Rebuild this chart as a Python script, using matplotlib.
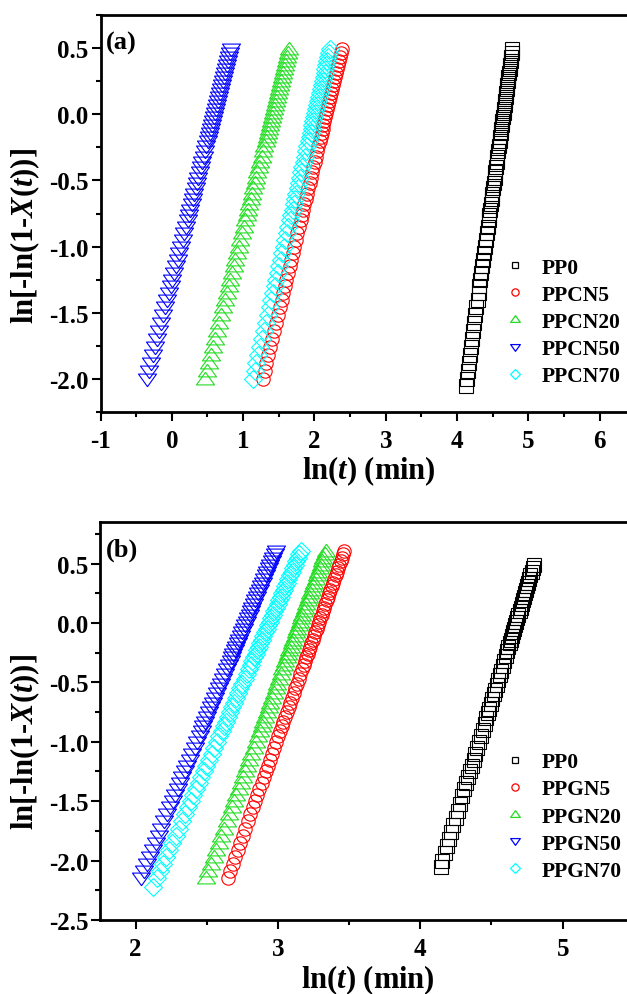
import matplotlib
matplotlib.use('Agg')
import matplotlib.pyplot as plt
from matplotlib.ticker import MultipleLocator, FixedLocator, FormatStrFormatter
from matplotlib.lines import Line2D

plt.rcParams.update({
    'font.family': ['Liberation Serif', 'DejaVu Serif'],
    'font.weight': 'bold',
    'mathtext.fontset': 'custom',
    'mathtext.rm': 'Liberation Serif:bold',
    'mathtext.it': 'Liberation Serif:italic:bold',
    'mathtext.bf': 'Liberation Serif:bold',
    'axes.unicode_minus': False,
})

# ---------------- data: panel (a) ----------------
labels_a = ['PP0', 'PPCN5', 'PPCN20', 'PPCN50', 'PPCN70']
xticks_a = [-1, 0, 1, 2, 3, 4, 5, 6]

# y = ln[-ln(1-X(t))] levels shared by PPCN series
y_cn = [-2.00, -1.94, -1.88, -1.82, -1.76, -1.70, -1.64, -1.58, -1.52, -1.46,
        -1.40, -1.35, -1.30, -1.25, -1.20, -1.15, -1.10, -1.05, -1.00, -0.95, -0.90, -0.85,
        -0.80, -0.76, -0.72, -0.68, -0.64, -0.60, -0.56, -0.52, -0.48, -0.44, -0.40, -0.36,
        -0.32, -0.28, -0.24,
        -0.20, -0.17, -0.14, -0.11, -0.08, -0.05, -0.02, 0.01, 0.04, 0.07, 0.10, 0.13, 0.16,
        0.19, 0.22, 0.25, 0.28, 0.31, 0.34, 0.37, 0.40, 0.43, 0.46, 0.49]

y_pp0 = [-2.05, -2.00, -1.94, -1.88, -1.82, -1.76, -1.70, -1.64, -1.58, -1.52, -1.46,
         -1.40, -1.35, -1.30, -1.25, -1.20, -1.15, -1.10, -1.05, -1.00, -0.95, -0.90, -0.85,
         -0.80, -0.76, -0.72, -0.68, -0.64, -0.60, -0.56, -0.52, -0.48, -0.44, -0.40, -0.36,
         -0.32, -0.28, -0.24,
         -0.20, -0.17, -0.14, -0.11, -0.08, -0.05, -0.02, 0.01, 0.04, 0.07, 0.10, 0.13, 0.16,
         0.19, 0.22, 0.25, 0.28, 0.31, 0.34, 0.37, 0.40, 0.43, 0.46, 0.49]

x_pp0_a = [4.120, 4.133, 4.149, 4.164, 4.179, 4.195, 4.210, 4.226, 4.241, 4.257, 4.272,
           4.288, 4.301, 4.314, 4.327, 4.339, 4.352, 4.365, 4.378, 4.391, 4.404, 4.417, 4.430,
           4.443, 4.453, 4.463, 4.474, 4.484, 4.494, 4.505, 4.515, 4.525, 4.536, 4.546, 4.556,
           4.566, 4.577, 4.587,
           4.597, 4.605, 4.613, 4.621, 4.628, 4.636, 4.644, 4.652, 4.659, 4.667, 4.675, 4.683,
           4.690, 4.698, 4.706, 4.714, 4.721, 4.729, 4.737, 4.745, 4.752, 4.760, 4.768, 4.775]

x_ppcn5 = [1.273, 1.300, 1.326, 1.354, 1.380, 1.407, 1.433, 1.460, 1.487, 1.514,
           1.540, 1.563, 1.585, 1.606, 1.629, 1.651, 1.674, 1.696, 1.719, 1.740, 1.762, 1.785,
           1.807, 1.825, 1.843, 1.860, 1.879, 1.896, 1.914, 1.932, 1.950, 1.967, 1.985, 2.003,
           2.020, 2.038, 2.056,
           2.074, 2.088, 2.101, 2.114, 2.127, 2.141, 2.154, 2.167, 2.181, 2.195, 2.208, 2.221,
           2.234, 2.248, 2.261, 2.274, 2.287, 2.301, 2.314, 2.328, 2.341, 2.355, 2.368, 2.381]

x_ppcn20 = [0.465, 0.493, 0.522, 0.550, 0.578, 0.607, 0.635, 0.663, 0.692, 0.720,
            0.748, 0.772, 0.795, 0.819, 0.843, 0.866, 0.890, 0.913, 0.937, 0.961, 0.984, 1.008,
            1.031, 1.050, 1.069, 1.088, 1.107, 1.126, 1.145, 1.164, 1.182, 1.201, 1.220, 1.239,
            1.258, 1.277, 1.296,
            1.315, 1.329, 1.343, 1.357, 1.371, 1.385, 1.400, 1.414, 1.428, 1.442, 1.456, 1.470,
            1.485, 1.499, 1.513, 1.527, 1.541, 1.555, 1.570, 1.584, 1.598, 1.612, 1.626, 1.640]

x_ppcn50 = [-0.345, -0.317, -0.288, -0.260, -0.232, -0.203, -0.175, -0.147, -0.118, -0.090,
            -0.062, -0.038, -0.015, 0.009, 0.033, 0.056, 0.080, 0.103, 0.127, 0.151, 0.174, 0.198,
            0.221, 0.240, 0.259, 0.278, 0.297, 0.316, 0.335, 0.354, 0.372, 0.391, 0.410, 0.429,
            0.448, 0.467, 0.486,
            0.505, 0.519, 0.533, 0.547, 0.561, 0.575, 0.590, 0.604, 0.618, 0.632, 0.646, 0.660,
            0.675, 0.689, 0.703, 0.717, 0.731, 0.745, 0.760, 0.774, 0.788, 0.802, 0.816, 0.830]

x_ppcn70 = [1.134, 1.160, 1.186, 1.213, 1.239, 1.265, 1.291, 1.317, 1.344, 1.370,
            1.396, 1.418, 1.440, 1.461, 1.483, 1.505, 1.527, 1.549, 1.571, 1.592, 1.614, 1.636,
            1.658, 1.675, 1.693, 1.710, 1.728, 1.745, 1.763, 1.780, 1.798, 1.815, 1.832, 1.850,
            1.867, 1.885, 1.902,
            1.920, 1.933, 1.946, 1.959, 1.972, 1.985, 1.998, 2.011, 2.025, 2.038, 2.051, 2.064,
            2.077, 2.090, 2.103, 2.116, 2.129, 2.142, 2.155, 2.169, 2.182, 2.195, 2.208, 2.221]

# ---------------- data: panel (b) ----------------
labels_b = ['PP0', 'PPGN5', 'PPGN20', 'PPGN50', 'PPGN70']
xticks_b = [2, 3, 4, 5]

y_gn = [-2.15, -2.09, -2.03, -1.97, -1.91, -1.85, -1.79, -1.73, -1.67, -1.61,
        -1.55, -1.50, -1.45, -1.40, -1.35, -1.30, -1.25, -1.20, -1.15, -1.10, -1.05, -1.00,
        -0.95, -0.91, -0.87, -0.83, -0.79, -0.75, -0.71, -0.67, -0.63, -0.59, -0.55, -0.51,
        -0.47, -0.43, -0.39,
        -0.35, -0.32, -0.29, -0.26, -0.23, -0.20, -0.17, -0.14, -0.11, -0.08, -0.05, -0.02,
        0.01, 0.04, 0.07, 0.10, 0.13, 0.16, 0.19, 0.22, 0.25, 0.28, 0.31, 0.34, 0.37, 0.40,
        0.43, 0.46, 0.49, 0.52, 0.55, 0.58, 0.61]

y_pp0_b = y_pp0

y_pgn70 = [-2.22] + y_gn

x_pp0_b = [4.142, 4.155, 4.171, 4.186, 4.201, 4.217, 4.232, 4.248, 4.263, 4.279, 4.294,
           4.310, 4.323, 4.336, 4.349, 4.361, 4.374, 4.387, 4.400, 4.413, 4.426, 4.439, 4.452,
           4.465, 4.475, 4.485, 4.496, 4.506, 4.516, 4.527, 4.537, 4.547, 4.558, 4.568, 4.578,
           4.588, 4.599, 4.609,
           4.619, 4.627, 4.635, 4.643, 4.650, 4.658, 4.666, 4.674, 4.681, 4.689, 4.697, 4.705,
           4.712, 4.720, 4.728, 4.736, 4.743, 4.751, 4.759, 4.767, 4.774, 4.782, 4.790, 4.797]

x_ppgn5 = [2.647, 2.665, 2.683, 2.701, 2.718, 2.736, 2.754, 2.772, 2.790, 2.807,
           2.825, 2.840, 2.855, 2.870, 2.885, 2.900, 2.914, 2.929, 2.944, 2.959, 2.974, 2.989,
           3.003, 3.015, 3.027, 3.039, 3.051, 3.063, 3.075, 3.087, 3.098, 3.110, 3.122, 3.134,
           3.146, 3.158, 3.170,
           3.182, 3.191, 3.199, 3.208, 3.217, 3.226, 3.235, 3.244, 3.253, 3.262, 3.271, 3.280,
           3.289, 3.297, 3.306, 3.315, 3.324, 3.333, 3.342, 3.351, 3.360, 3.369, 3.378, 3.387,
           3.396, 3.405, 3.413, 3.422, 3.431, 3.440, 3.449, 3.458, 3.467]

x_ppgn20 = [2.493, 2.511, 2.530, 2.548, 2.566, 2.585, 2.603, 2.622, 2.640, 2.658,
            2.677, 2.692, 2.707, 2.723, 2.738, 2.753, 2.768, 2.784, 2.799, 2.814, 2.830, 2.845,
            2.860, 2.872, 2.885, 2.897, 2.909, 2.921, 2.934, 2.946, 2.958, 2.970, 2.983, 2.995,
            3.007, 3.019, 3.032,
            3.044, 3.053, 3.062, 3.071, 3.081, 3.090, 3.099, 3.108, 3.117, 3.126, 3.136, 3.145,
            3.154, 3.163, 3.172, 3.182, 3.191, 3.200, 3.209, 3.218, 3.227, 3.237, 3.246, 3.255,
            3.264, 3.273, 3.282, 3.292, 3.301, 3.310, 3.319, 3.328, 3.338]

x_ppgn50 = [2.037, 2.058, 2.078, 2.099, 2.120, 2.140, 2.161, 2.182, 2.202, 2.223,
            2.243, 2.261, 2.278, 2.295, 2.312, 2.329, 2.347, 2.364, 2.381, 2.398, 2.415, 2.433,
            2.450, 2.464, 2.477, 2.491, 2.505, 2.519, 2.532, 2.546, 2.560, 2.574, 2.587, 2.601,
            2.615, 2.629, 2.642,
            2.656, 2.667, 2.677, 2.687, 2.698, 2.708, 2.718, 2.728, 2.739, 2.749, 2.759, 2.770,
            2.780, 2.790, 2.801, 2.811, 2.821, 2.832, 2.842, 2.852, 2.863, 2.873, 2.883, 2.894,
            2.904, 2.914, 2.924, 2.935, 2.945, 2.956, 2.966, 2.976, 2.986]

x_ppgn70 = [2.123, 2.149, 2.171, 2.193, 2.215, 2.237, 2.259, 2.281, 2.303, 2.325, 2.347,
            2.369, 2.388, 2.406, 2.424, 2.443, 2.461, 2.479, 2.498, 2.516, 2.534, 2.553, 2.571,
            2.589, 2.604, 2.619, 2.633, 2.648, 2.663, 2.678, 2.692, 2.707, 2.722, 2.736, 2.751,
            2.766, 2.780, 2.795,
            2.810, 2.821, 2.832, 2.843, 2.854, 2.865, 2.876, 2.887, 2.898, 2.909, 2.920, 2.931,
            2.942, 2.953, 2.964, 2.975, 2.986, 2.997, 3.008, 3.019, 3.030, 3.041, 3.052, 3.063,
            3.074, 3.085, 3.096, 3.107, 3.118, 3.129, 3.140, 3.151, 3.162]

# ---------------- styles ----------------
colors = ['#000000', '#FF0000', '#22DD22', '#0000FF', '#00FFFF']
tri_up = [(0, 0.8), (-1, -0.6), (1, -0.6), (0, 0.8)]
tri_dn = [(0, -0.8), (-1, 0.6), (1, 0.6), (0, -0.8)]
markers = ['s', 'o', tri_up, tri_dn, 'D']
msizes = [9.4, 9.6, 13.0, 13.0, 9.2]
leg_sizes = [5.0, 5.2, 7.0, 7.0, 5.0]

W, H = 627.0, 995.0
fig = plt.figure(figsize=(6.27, 9.95), dpi=100)


def px_axes(left, top, right, bottom):
    return fig.add_axes([left / W, 1 - bottom / H, (right - left) / W, (bottom - top) / H])


axA = px_axes(100.5, 16, 671, 413)
axB = px_axes(100, 523, 705, 921)

series_a = [(x_pp0_a, y_pp0), (x_ppcn5, y_cn), (x_ppcn20, y_cn), (x_ppcn50, y_cn), (x_ppcn70, y_cn)]
series_b = [(x_pp0_b, y_pp0_b), (x_ppgn5, y_gn), (x_ppgn20, y_gn), (x_ppgn50, y_gn), (x_ppgn70, y_pgn70)]

LEG_FS = 15.5
for ax, series, labels, xt in ((axA, series_a, labels_a, xticks_a), (axB, series_b, labels_b, xticks_b)):
    for (xs, ys), c, m, ms in zip(series, colors, markers, msizes):
        ax.plot(xs, ys, linestyle='none', marker=m, markersize=ms,
                markerfacecolor='none', markeredgecolor=c, markeredgewidth=0.8)
    handles = [Line2D([], [], linestyle='none', marker=m, markersize=s,
                      markerfacecolor='none', markeredgecolor=c, markeredgewidth=0.9)
               for c, m, s in zip(colors, markers, leg_sizes)]
    yc = 323 if ax is axA else 817.5
    ax.legend(handles, labels, loc='center left', bbox_to_anchor=(504 / W, 1 - yc / H),
              bbox_transform=fig.transFigure, frameon=False, handlelength=1.0,
              handletextpad=0.75, labelspacing=0.33, borderpad=0, borderaxespad=0,
              prop={'family': 'Liberation Serif', 'weight': 'bold', 'size': LEG_FS})
    for s in ('left', 'bottom', 'top'):
        ax.spines[s].set_linewidth(2.0)
    ax.spines['right'].set_visible(False)
    ax.tick_params(which='both', direction='out', top=False, right=False, width=1.5)
    ax.tick_params(which='major', length=6.5, labelsize=18)
    ax.tick_params(which='minor', length=3.5)
    ax.tick_params(axis='x', which='major', pad=5.5)
    ax.tick_params(axis='y', which='major', pad=2)
    ax.xaxis.set_major_locator(FixedLocator(xt))
    ax.xaxis.set_minor_locator(MultipleLocator(0.5))
    ax.yaxis.set_major_locator(MultipleLocator(0.5))
    ax.yaxis.set_minor_locator(MultipleLocator(0.25))
    ax.yaxis.set_major_formatter(FormatStrFormatter('%.1f'))
    ax.xaxis.set_major_formatter(FormatStrFormatter('%d'))

axA.set_xlim(-1, 7)
axA.set_ylim(-2.25, 0.75)
axB.set_xlim(1.75, 6)
axB.set_ylim(-2.5, 0.85)

lab_kw = dict(fontsize=22, fontweight='bold', ha='center', va='center')
fig.text(369 / W, 1 - 471 / H, 'ln($t$) (min)', **lab_kw)
fig.text(368 / W, 1 - 980 / H, 'ln($t$) (min)', **lab_kw)
fig.text(25 / W, 1 - 236 / H, 'ln[-ln(1-$X$($t$))]', rotation=90, **lab_kw)
fig.text(25 / W, 1 - 742 / H, 'ln[-ln(1-$X$($t$))]', rotation=90, **lab_kw)

fig.text(106 / W, 1 - 43 / H, '(a)', fontsize=19, fontweight='bold', ha='left', va='center')
fig.text(106 / W, 1 - 550 / H, '(b)', fontsize=19, fontweight='bold', ha='left', va='center')

fig.savefig('out.png', dpi=100)
